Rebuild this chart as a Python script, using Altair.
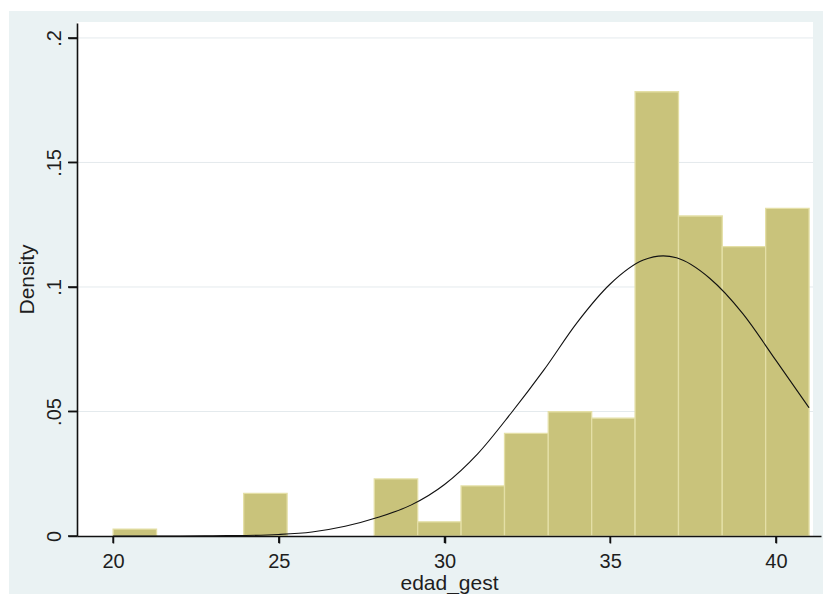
import altair as alt
import pandas as pd

# Histogram of gestational age (edad_gest), density scale, 16 bins
bin_start = [20.00, 21.31, 22.63, 23.94, 25.25, 26.56, 27.88, 29.19,
             30.50, 31.81, 33.13, 34.44, 35.75, 37.06, 38.38, 39.69]
bin_end = [21.31, 22.63, 23.94, 25.25, 26.56, 27.88, 29.19, 30.50,
           31.81, 33.13, 34.44, 35.75, 37.06, 38.38, 39.69, 41.00]
density = [0.0028, 0.0, 0.0, 0.0171, 0.0, 0.0, 0.0229, 0.0057,
           0.0201, 0.0412, 0.0499, 0.0473, 0.1784, 0.1285, 0.1162, 0.1316]

# Overlaid normal density curve
curve_x = [20, 21, 22, 23, 24, 25, 26, 27, 28, 29, 30, 31, 32, 33, 34,
           35, 36, 36.6, 37, 38, 39, 40, 41]
curve_y = [0.0, 0.0, 0.0, 0.0001, 0.0002, 0.0006, 0.0016, 0.0039, 0.0075,
           0.0125, 0.0207, 0.0330, 0.0492, 0.0667, 0.0857, 0.1012, 0.1108,
           0.1125, 0.1117, 0.1035, 0.0893, 0.0705, 0.0515]

x_ticks = [20, 25, 30, 35, 40]
y_ticks = [0, 0.05, 0.1, 0.15, 0.2]
y_tick_labels = ["0", ".05", ".1", ".15", ".2"]

bars_df = pd.DataFrame({"start": bin_start, "end": bin_end, "density": density})
curve_df = pd.DataFrame({"x": curve_x, "y": curve_y})
grid_df = pd.DataFrame({"y": [v for v in y_ticks if v > 0]})
xtick_df = pd.DataFrame({"x": x_ticks})
ytick_df = pd.DataFrame({"y": y_ticks})
one_row = pd.DataFrame({"k": [0]})

W, H = 744, 513
FONT = "Liberation Sans"
INK = "#1e1e1e"
AXIS_INK = "#111111"
X_TICK, Y_TICK = 7, 9

x_scale = alt.Scale(domain=[18.91, 41.36], nice=False, zero=False)
y_scale = alt.Scale(domain=[0, 0.206], nice=False, zero=False)

y_label_expr = " : ".join(
    f"datum.value == {v} ? '{lab}'" for v, lab in zip(y_ticks, y_tick_labels)
) + " : ''"

x_axis = alt.Axis(
    values=x_ticks, format="d", title="edad_gest", grid=False,
    ticks=True, tickSize=X_TICK, tickWidth=1.5, tickColor=AXIS_INK,
    domainColor=AXIS_INK, domainWidth=1.6,
    labelFont=FONT, labelFontSize=20, labelColor=INK,
    labelBaseline="alphabetic", labelPadding=24,
    titleFont=FONT, titleFontSize=21, titleFontWeight="normal", titleColor=INK,
    titleBaseline="alphabetic", titleY=53, titleX=W / 2, titleAlign="center",
    zindex=1,
)
y_axis = alt.Axis(
    values=y_ticks, labelExpr=y_label_expr, title="Density", grid=False,
    ticks=True, tickSize=Y_TICK, tickWidth=1.5, tickColor=AXIS_INK,
    domainColor=AXIS_INK, domainWidth=1.6,
    labelFont=FONT, labelFontSize=20, labelColor=INK,
    labelAngle=270, labelAlign="center", labelBaseline="alphabetic", labelPadding=8,
    titleFont=FONT, titleFontSize=21, titleFontWeight="normal", titleColor=INK,
    titleAngle=270, titleAlign="center", titleBaseline="alphabetic",
    titleX=-44, titleY=256,
    zindex=1,
)

# Graph region (light bluish) and white plot region
graph_region = alt.Chart(one_row).mark_rect(color="#eaf2f3").encode(
    x=alt.value(-68), x2=alt.value(W + 10), y=alt.value(-12), y2=alt.value(H + 70)
)
plot_region = alt.Chart(one_row).mark_rect(color="white").encode(
    x=alt.value(0), x2=alt.value(736), y=alt.value(-1), y2=alt.value(H)
)

grid = alt.Chart(grid_df).mark_rule(color="#e4eaed", strokeWidth=1).encode(
    y=alt.Y("y:Q", scale=y_scale, axis=y_axis),
    x=alt.value(0), x2=alt.value(736),
)

bars = alt.Chart(bars_df).transform_filter("datum.density > 0").mark_rect(
    color="#c9c37b", stroke="#e4dfa6", strokeWidth=1.3
).encode(
    x=alt.X("start:Q", scale=x_scale, axis=x_axis),
    x2="end:Q",
    y=alt.Y("density:Q", scale=y_scale, axis=y_axis),
    y2=alt.datum(0),
)

curve = alt.Chart(curve_df).mark_line(
    color="#111111", strokeWidth=1.1, interpolate="monotone"
).encode(
    x=alt.X("x:Q", scale=x_scale, axis=x_axis),
    y=alt.Y("y:Q", scale=y_scale, axis=y_axis),
)

# Outward tick marks on both axes
x_tick_marks = alt.Chart(xtick_df).mark_rule(color=AXIS_INK, strokeWidth=1.5).encode(
    x=alt.X("x:Q", scale=x_scale, axis=x_axis),
    y=alt.value(H), y2=alt.value(H + X_TICK),
)
y_tick_marks = alt.Chart(ytick_df).mark_rule(color=AXIS_INK, strokeWidth=1.5).encode(
    y=alt.Y("y:Q", scale=y_scale, axis=y_axis),
    x=alt.value(-Y_TICK), x2=alt.value(0),
)

chart = alt.layer(
    graph_region, plot_region, grid, bars, curve, x_tick_marks, y_tick_marks
).properties(
    width=W, height=H,
    padding={"left": 77, "top": 23, "right": 2, "bottom": 58},
    autosize=alt.AutoSizeParams(type="none"),
    background="white",
).configure_view(stroke=None)

chart.save("out.html", embed_options={"renderer": "svg", "actions": False})
